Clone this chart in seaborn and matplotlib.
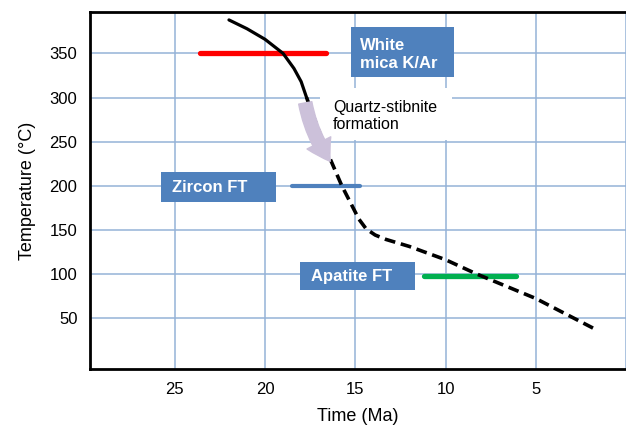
import matplotlib
matplotlib.use("Agg")
import matplotlib.pyplot as plt
import seaborn as sns
import pandas as pd
from matplotlib.patches import Rectangle, FancyArrowPatch

# ---- data ----
solid_time = [22.0, 21.0, 20.0, 19.0, 18.4, 18.0, 17.7]
solid_temp = [388, 378, 366, 350, 333, 318, 300]
dash_time = [17.7, 17.2, 16.7, 16.3, 15.75, 15.2, 14.8, 14.4, 13.9, 13.3,
             12.0, 10.0, 8.3, 5.0, 1.6]
dash_temp = [300, 272, 245, 226, 200, 178, 162, 151, 144, 139,
             131, 116, 100, 72, 36]

red_time = [23.6, 16.6]
red_temp = [350, 350]
zircon_time = [18.5, 14.75]
zircon_temp = [200, 200]
apatite_time = [11.2, 6.1]
apatite_temp = [97, 97]

xticks = [25, 20, 15, 10, 5]
yticks = [50, 100, 150, 200, 250, 300, 350]

sns.set_theme(style="white")
plt.rcParams['font.family'] = ['Liberation Sans', 'DejaVu Sans']

fig = plt.figure(figsize=(6.26, 4.28), dpi=100)
ax = fig.add_axes([90/626, 59/428, 536/626, 357/428])

grid_c = "#95B3D7"
for v in xticks + [0]:
    ax.axvline(v, color=grid_c, lw=1.1, zorder=1)
for v in yticks:
    ax.axhline(v, color=grid_c, lw=1.1, zorder=1)

# white background behind annotation text
ax.add_patch(Rectangle((0.429, 0.641), 0.246, 0.146, transform=ax.transAxes,
                       facecolor="white", edgecolor="none", zorder=2))

sns.lineplot(x=solid_time, y=solid_temp, ax=ax, color="black", lw=2.3, zorder=4,
             sort=False, estimator=None)
sns.lineplot(x=dash_time, y=dash_temp, ax=ax, color="black", lw=2.6, zorder=4,
             sort=False, estimator=None, linestyle=(0, (3.0, 1.6)))
for l in ax.lines[-2:]:
    l.set_solid_joinstyle("round")
    l.set_dash_joinstyle("round")

sns.lineplot(x=red_time, y=red_temp, ax=ax, color="#FF0000", lw=3.8, zorder=3)
sns.lineplot(x=zircon_time, y=zircon_temp, ax=ax, color="#4F81BD", lw=3.0, zorder=3)
sns.lineplot(x=apatite_time, y=apatite_temp, ax=ax, color="#00B050", lw=3.8, zorder=3)

# arrow
arr = FancyArrowPatch((17.8, 297), (16.3, 225), connectionstyle="arc3,rad=0.12",
                      arrowstyle="simple,head_width=1.6,head_length=1.3,tail_width=0.8",
                      mutation_scale=12, color="#CCC1DA", zorder=5)
ax.add_patch(arr)

box_c = "#4F81BD"
boxes = [
    ((0.487, 0.818), 0.192, 0.140),
    ((0.1325, 0.468), 0.2145, 0.084),
    ((0.392, 0.221), 0.214, 0.079),
]
for (x0, y0), w, h in boxes:
    ax.add_patch(Rectangle((x0, y0), w, h, transform=ax.transAxes,
                           facecolor=box_c, edgecolor="none", zorder=6))

ax.text((360-90)/536, (369-55)/357, "White\nmica K/Ar", transform=ax.transAxes,
        color="white", fontsize=12, fontweight="bold", va="center", ha="left",
        linespacing=1.25, zorder=7)
ax.text((172-90)/536, (369-187)/357, "Zircon FT", transform=ax.transAxes,
        color="white", fontsize=12, fontweight="bold", va="center", ha="left", zorder=7)
ax.text((311-90)/536, (369-276)/357, "Apatite FT", transform=ax.transAxes,
        color="white", fontsize=12, fontweight="bold", va="center", ha="left", zorder=7)
ax.text((333-90)/536, (369-116)/357, "Quartz-stibnite\nformation", transform=ax.transAxes,
        color="black", fontsize=11.5, va="center", ha="left", linespacing=1.2, zorder=7)

ax.set_xlim(29.7, 0)
ax.set_ylim(-8, 397)
ax.set_xticks(xticks)
ax.set_yticks(yticks)
ax.tick_params(axis="both", length=0, labelsize=12, colors="black")
ax.tick_params(axis="x", pad=9)
ax.tick_params(axis="y", pad=9)
ax.set_xlabel("Time (Ma)", fontsize=13, color="black", labelpad=8)
ax.set_ylabel("Temperature (°C)", fontsize=13, color="black", labelpad=10)

for s in ["left", "bottom", "top"]:
    ax.spines[s].set_color("black")
    ax.spines[s].set_linewidth(2.0)
ax.spines["right"].set_visible(False)
ax.grid(False)

fig.savefig("out.png", dpi=100)
